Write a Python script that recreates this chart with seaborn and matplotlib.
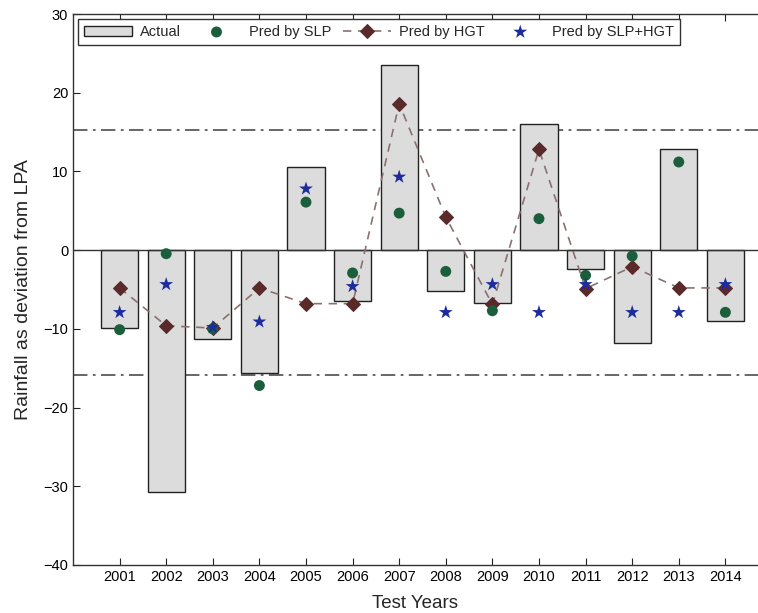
import numpy as np
import pandas as pd
import matplotlib
matplotlib.use("Agg")
import matplotlib.pyplot as plt
import seaborn as sns

years = [2001, 2002, 2003, 2004, 2005, 2006, 2007, 2008, 2009, 2010, 2011, 2012, 2013, 2014]
actual = [-9.9, -30.7, -11.3, -15.6, 10.5, -6.4, 23.5, -5.2, -6.7, 16.0, -2.4, -11.8, 12.9, -9.0]
pred_slp = [-10.1, -0.45, -10.0, -17.2, 6.1, -2.9, 4.7, -2.7, -7.7, 4.0, -3.2, -0.75, 11.2, -7.9]
pred_hgt = [-4.8, -9.6, -9.9, -4.8, -6.8, -6.8, 18.6, 4.2, -6.9, 12.8, -4.9, -2.1, -4.8, -4.8]
pred_both = [-7.9, -4.35, -9.8, -9.1, 7.8, -4.6, 9.3, -7.9, -4.35, -7.9, -4.35, -7.9, -7.9, -4.35]
upper_band = 15.2
lower_band = -15.9

df = pd.DataFrame({"year": years, "actual": actual, "slp": pred_slp,
                   "hgt": pred_hgt, "both": pred_both})

sns.set_style("white")
plt.rcParams['font.family'] = ['Liberation Sans', 'DejaVu Sans']

fig = plt.figure(figsize=(7.58, 6.13), dpi=100)
ax = fig.add_axes([73/758, 48/613, 1 - 73/758, 551/613])

sns.barplot(data=df, x="year", y="actual", native_scale=True, width=0.8,
            color="#dcdcdc", edgecolor="#222222", linewidth=1.0,
            saturation=1, label="Actual", ax=ax, zorder=2)

ax.axhline(0, color="#333333", lw=1.0, zorder=3)
# dash-dot band lines
ax.axhline(upper_band, color="#5a5a5a", lw=1.3, ls=(0, (8, 3, 1.5, 3)), zorder=1)
ax.axhline(lower_band, color="#5a5a5a", lw=1.3, ls=(0, (8, 3, 1.5, 3)), zorder=1)

sns.scatterplot(data=df, x="year", y="slp", marker="o", s=62, color="#1b5e3b",
                edgecolor="none", label="Pred by SLP", ax=ax, zorder=5)
sns.lineplot(data=df, x="year", y="hgt", color="#8c7070", lw=1.2,
             linestyle=(0, (5, 4)), marker="D", markersize=7,
             markerfacecolor="#5a2a2a", markeredgecolor="#5a2a2a",
             label="Pred by HGT", ax=ax, zorder=4)
sns.scatterplot(data=df, x="year", y="both", marker="*", s=110, color="#1c2c9c",
                edgecolor="none", label="Pred by SLP+HGT", ax=ax, zorder=6)

ax.set_xlim(2000, 2014.7)
ax.set_ylim(-40, 30)
ax.set_xticks(years)
ax.set_xticklabels([str(y) for y in years])
ax.set_yticks(np.arange(-40, 31, 10))
ax.tick_params(axis="both", direction="in", length=5, width=0.8, labelsize=10.5,
               top=True, bottom=True, left=True, right=False, colors="#222222",
               labelcolor="black")
for side in ["left", "top", "bottom"]:
    ax.spines[side].set_color("#333333")
    ax.spines[side].set_linewidth(1.0)
ax.spines["right"].set_visible(False)

ax.set_xlabel("Test Years", fontsize=13.5, labelpad=8)
ax.set_ylabel("Rainfall as deviation from LPA", fontsize=14, labelpad=8)

handles, labels = ax.get_legend_handles_labels()
order = [labels.index(l) for l in ["Actual", "Pred by SLP", "Pred by HGT", "Pred by SLP+HGT"]]
leg = ax.legend([handles[i] for i in order], [labels[i] for i in order],
                loc="upper left", bbox_to_anchor=(0.007, 0.991), ncol=4,
                fontsize=10.5, frameon=True, fancybox=False, framealpha=1,
                edgecolor="#333333", handlelength=3.3, columnspacing=0.8,
                handletextpad=0.55, borderpad=0.4, borderaxespad=0)
leg.get_frame().set_linewidth(1.0)

fig.savefig("out.png", dpi=100)
